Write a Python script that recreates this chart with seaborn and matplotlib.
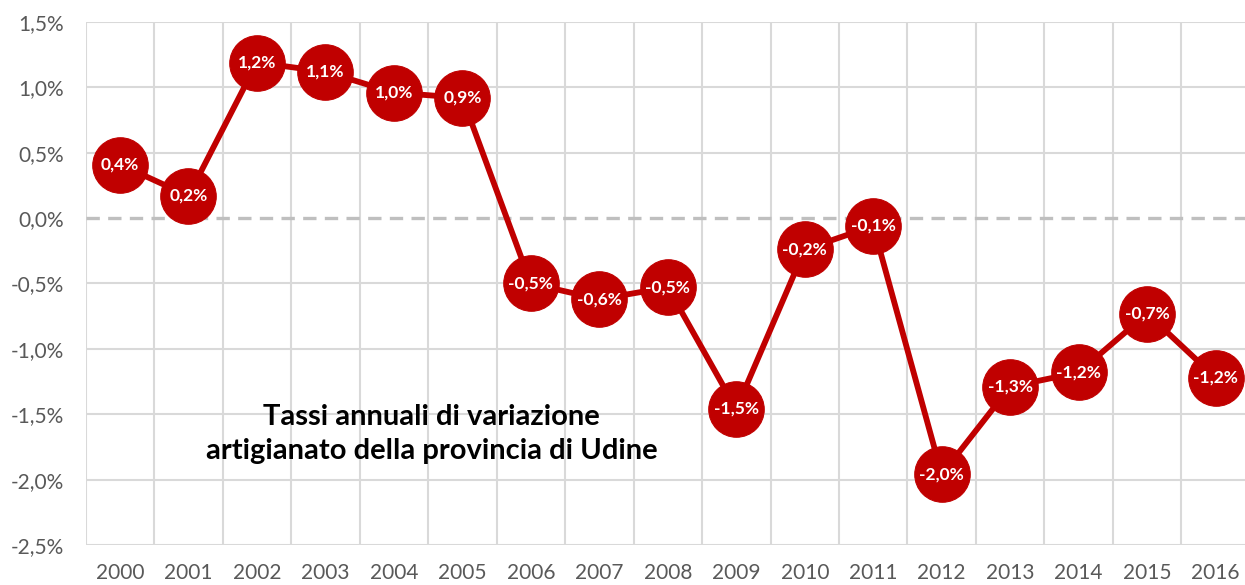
import pandas as pd
import seaborn as sns
import matplotlib.pyplot as plt

# annual change rates (%)
years = [2000, 2001, 2002, 2003, 2004, 2005, 2006, 2007, 2008,
         2009, 2010, 2011, 2012, 2013, 2014, 2015, 2016]
rates = [0.41, 0.17, 1.19, 1.12, 0.96, 0.92, -0.50, -0.62, -0.53,
         -1.46, -0.24, -0.06, -1.96, -1.29, -1.18, -0.73, -1.22]
y_ticks = [-2.5, -2.0, -1.5, -1.0, -0.5, 0.0, 0.5, 1.0, 1.5]

df = pd.DataFrame({"pos": range(len(years)), "year": years, "rate": rates})

sns.set_style("white")
plt.rcParams["font.family"] = ["Lato", "DejaVu Sans"]

red = "#C00000"
grid_c = "#d9d9d9"
text_c = "#595959"

fig = plt.figure(figsize=(12.45, 5.85), dpi=100)
ax = fig.add_axes([0.0689, 0.0684, 0.935, 0.894])

# grid drawn by hand: horizontal at ticks, vertical at category edges
for y in y_ticks:
    if y != 0:
        ax.axhline(y, color=grid_c, lw=1.5, zorder=0)
for i in range(len(years) + 1):
    ax.axvline(i - 0.5, color=grid_c, lw=1.5, zorder=0)
ax.axhline(0, color="#bfbfbf", lw=2.4, ls=(0, (4, 2.5)), zorder=1)

sns.lineplot(
    data=df, x="pos", y="rate", ax=ax,
    color=red, lw=4.2, marker="o", markersize=40,
    markerfacecolor=red, markeredgecolor=red, zorder=3,
)

for p, r in zip(df["pos"], df["rate"]):
    lbl = f"{r:.1f}".replace(".", ",") + "%"
    ax.text(p, r, lbl, ha="center", va="center", color="white",
            fontsize=12.5, fontweight="bold", zorder=4)

ax.text(4.55, -1.65, "Tassi annuali di variazione\nartigianato della provincia di Udine",
        ha="center", va="center", fontsize=21, fontweight="bold",
        color="black", linespacing=1.35, zorder=2)

ax.set_xlim(-0.5, len(years) - 0.5)
ax.set_ylim(-2.5, 1.5)
ax.set_xticks(range(len(years)))
ax.set_xticklabels([str(y) for y in years])
ax.set_yticks(y_ticks)
ax.set_yticklabels([f"{t:.1f}".replace(".", ",") + "%" for t in y_ticks])
ax.tick_params(axis="both", length=0, labelsize=15, colors=text_c)
ax.tick_params(axis="x", pad=13)
ax.tick_params(axis="y", pad=16)
ax.set_xlabel("")
ax.set_ylabel("")
for s in ax.spines.values():
    s.set_visible(False)

fig.savefig("out.png", dpi=100)
